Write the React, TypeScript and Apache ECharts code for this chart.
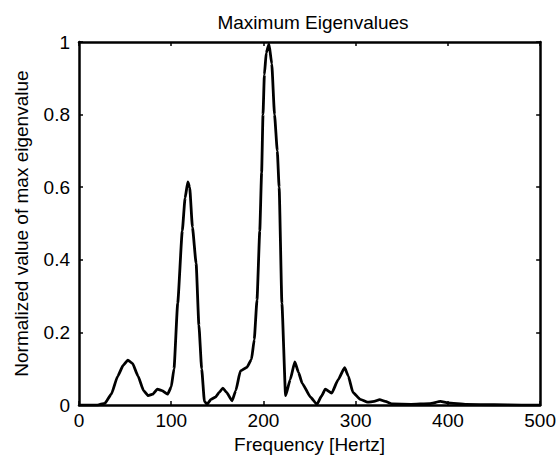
import React, { useEffect, useRef } from "react";
import * as echarts from "echarts";

const frequency = [0, 10, 20, 28, 35, 42, 48, 53, 58, 64, 70, 75, 80, 85, 90, 96, 100, 103, 107, 112, 115, 118, 120, 123, 127, 130, 133, 136, 139, 143, 148, 152, 156, 160, 166, 170, 175, 182, 187, 190, 193, 196, 198, 199.5, 201, 203, 206, 209, 212, 215, 217, 220, 224, 229, 234, 238, 242, 251, 258, 263, 267, 274, 281, 288, 292, 297, 305, 313, 320, 326, 332, 340, 360, 380, 392, 400, 420, 450, 480, 500];
const eigenvalue = [0, 0, 0, 0.005, 0.03, 0.08, 0.11, 0.124, 0.115, 0.08, 0.04, 0.026, 0.03, 0.044, 0.04, 0.03, 0.05, 0.1, 0.28, 0.48, 0.57, 0.615, 0.6, 0.49, 0.39, 0.22, 0.1, 0.01, 0.002, 0.016, 0.022, 0.035, 0.047, 0.035, 0.012, 0.04, 0.094, 0.104, 0.126, 0.18, 0.29, 0.48, 0.64, 0.8, 0.91, 0.97, 0.995, 0.94, 0.8, 0.7, 0.6, 0.28, 0.026, 0.07, 0.119, 0.09, 0.06, 0.022, 0.002, 0.025, 0.044, 0.033, 0.07, 0.103, 0.08, 0.035, 0.016, 0.008, 0.01, 0.015, 0.01, 0.003, 0.002, 0.004, 0.01, 0.006, 0.002, 0.001, 0, 0];

const titleText = "Maximum Eigenvalues";
const xName = "Frequency [Hertz]";
const yName = "Normalized value of max eigenvalue";

export default function App() {
  const ref = useRef<HTMLDivElement>(null);
  useEffect(() => {
    if (!ref.current) return;
    const chart = echarts.init(ref.current, undefined, { renderer: "svg" });
    const font = "'Liberation Sans', Arial, sans-serif";
    const axisCommon = {
      axisLine: { show: true, onZero: false, lineStyle: { color: "#000", width: 2.5 } },
      axisTick: { show: true, inside: true, length: 4, lineStyle: { color: "#000", width: 1.5 } },
      splitLine: { show: false },
    };
    chart.setOption({
      animation: false,
      backgroundColor: "#fff",
      title: {
        text: titleText,
        left: 308,
        top: 8,
        textAlign: "center",
        textStyle: { fontFamily: font, fontSize: 19, fontWeight: "normal", color: "#000" },
      },
      grid: { left: 79, right: 16, top: 42, bottom: 53 },
      xAxis: [
        {
          type: "value",
          min: 0,
          max: 500,
          interval: 100,
          position: "bottom",
          name: xName,
          nameLocation: "middle",
          nameGap: 23,
          nameTextStyle: { fontFamily: font, fontSize: 19, color: "#000" },
          axisLabel: { fontFamily: font, fontSize: 19, color: "#000", margin: 6 },
          ...axisCommon,
        },
        {
          type: "value",
          min: 0,
          max: 500,
          interval: 100,
          position: "top",
          axisLabel: { show: false },
          ...axisCommon,
        },
      ],
      yAxis: [
        {
          type: "value",
          min: 0,
          max: 1,
          interval: 0.2,
          position: "left",
          name: yName,
          nameLocation: "middle",
          nameGap: 48,
          nameTextStyle: { fontFamily: font, fontSize: 19, color: "#000" },
          axisLabel: { fontFamily: font, fontSize: 19, color: "#000", margin: 9 },
          ...axisCommon,
        },
        {
          type: "value",
          min: 0,
          max: 1,
          interval: 0.2,
          position: "right",
          axisLabel: { show: false },
          ...axisCommon,
        },
      ],
      series: [
        {
          type: "line",
          data: frequency.map((f, i) => [f, eigenvalue[i]]),
          showSymbol: false,
          smooth: 0.15,
          smoothMonotone: "x",
          lineStyle: { color: "#000", width: 2.8 },
        },
      ],
    });
    return () => chart.dispose();
  }, []);
  return <div ref={ref} style={{ width: 559, height: 459, position: "absolute", left: 0, top: 0 }} />;
}
